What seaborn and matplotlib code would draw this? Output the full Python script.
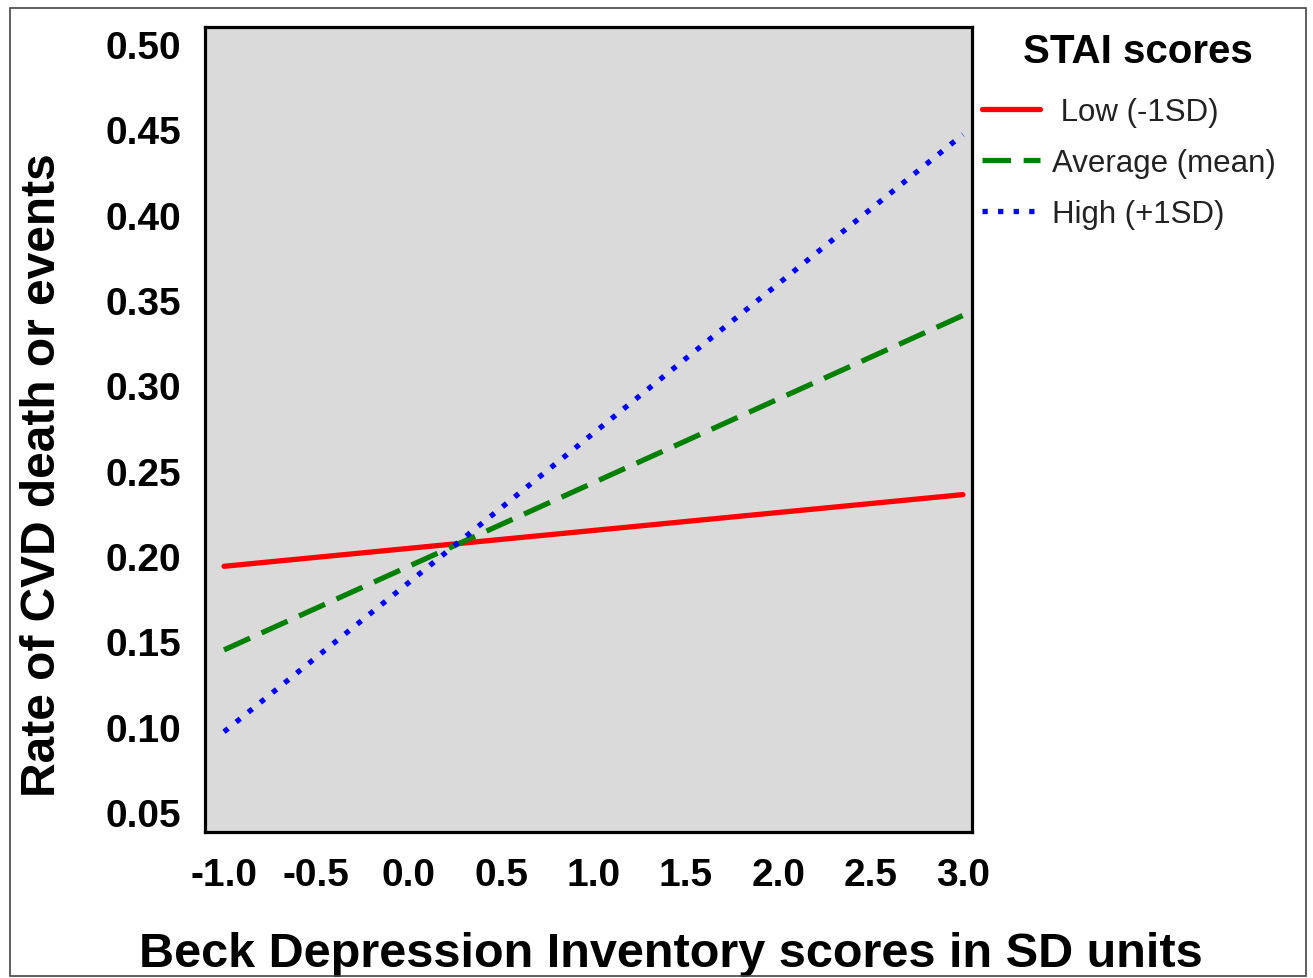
import matplotlib
matplotlib.use("Agg")
import matplotlib.pyplot as plt
import seaborn as sns
import pandas as pd
from matplotlib.patches import Rectangle
from matplotlib.lines import Line2D

# Data
x_vals = [-1.0, 3.0]
low_vals = [0.194, 0.236]
avg_vals = [0.145, 0.341]
high_vals = [0.097, 0.447]
groups = ["Low (-1SD)", "Average (mean)", "High (+1SD)"]
legend_labels = [" Low (-1SD)", "Average (mean)", "High (+1SD)"]
x_ticks = [-1.0, -0.5, 0.0, 0.5, 1.0, 1.5, 2.0, 2.5, 3.0]
y_ticks = [0.05, 0.10, 0.15, 0.20, 0.25, 0.30, 0.35, 0.40, 0.45, 0.50]

df = pd.DataFrame({
    "x": x_vals * 3,
    "y": low_vals + avg_vals + high_vals,
    "group": [groups[0]] * 2 + [groups[1]] * 2 + [groups[2]] * 2,
})

sns.set_style("white")
plt.rcParams["font.family"] = ["Liberation Sans", "DejaVu Sans"]
plt.rcParams["text.color"] = "black"
plt.rcParams["axes.labelcolor"] = "black"
plt.rcParams["xtick.color"] = "black"
plt.rcParams["ytick.color"] = "black"

W, H = 1313, 979
fig = plt.figure(figsize=(W / 100, H / 100), dpi=100)
fig.patch.set_facecolor("white")
fig.patches.append(Rectangle((10 / W, 1 - 977 / H), 1296 / W, 968 / H,
                             transform=fig.transFigure, fill=False,
                             edgecolor="#444444", linewidth=1.2))

ax = fig.add_axes([205 / W, 1 - 833 / H, 767 / W, 805 / H])
ax.set_facecolor("#dadada")

palette = {groups[0]: "#ff0000", groups[1]: "#008000", groups[2]: "#0000ff"}
dashes = {groups[0]: "", groups[1]: (5.4, 2.4), groups[2]: (1.0, 1.95)}
sns.lineplot(data=df, x="x", y="y", hue="group", style="group",
             palette=palette, dashes=dashes, linewidth=3.8, ax=ax,
             legend=False)

ax.set_xlim(-1.103, 3.049)
ax.set_ylim(0.0383, 0.510)
ax.set_xticks(x_ticks)
ax.set_xticklabels([f"{v:.1f}" for v in x_ticks])
ax.set_yticks(y_ticks)
ax.set_yticklabels([f"{v:.2f}" for v in y_ticks])
for s in ax.spines.values():
    s.set_linewidth(2.3)
    s.set_color("black")
ax.tick_params(axis="both", length=10, width=2.3, color="black",
               labelsize=28, labelcolor="black")
ax.tick_params(axis="y", pad=7)
ax.tick_params(axis="x", pad=8)
for lab in ax.get_xticklabels() + ax.get_yticklabels():
    lab.set_fontweight("bold")
ax.set_xlabel("Beck Depression Inventory scores in SD units",
              fontsize=35, fontweight="bold", color="black")
ax.set_ylabel("Rate of CVD death or events", fontsize=34.5,
              fontweight="bold", color="black")
ax.xaxis.set_label_coords(0.607, -0.123)
ax.yaxis.set_label_coords(-0.182, 0.445)

fig.text(1138 / W, 1 - 52 / H, "STAI scores", ha="center", va="center",
         fontsize=29, fontweight="bold", color="black")

handles = [Line2D([0], [0], color=palette[g], linewidth=3.8,
                  linestyle="-" if dashes[g] == "" else (0, dashes[g]))
           for g in groups]
leg = fig.legend(handles, legend_labels, loc="upper left",
                 bbox_to_anchor=(982 / W, 1 - 98 / H),
                 frameon=False, fontsize=22.5,
                 handlelength=1.85, handletextpad=0.4, labelspacing=0.67,
                 borderaxespad=0, borderpad=0)
for t in leg.get_texts():
    t.set_color("#222222")

fig.savefig("out.png", dpi=100)
